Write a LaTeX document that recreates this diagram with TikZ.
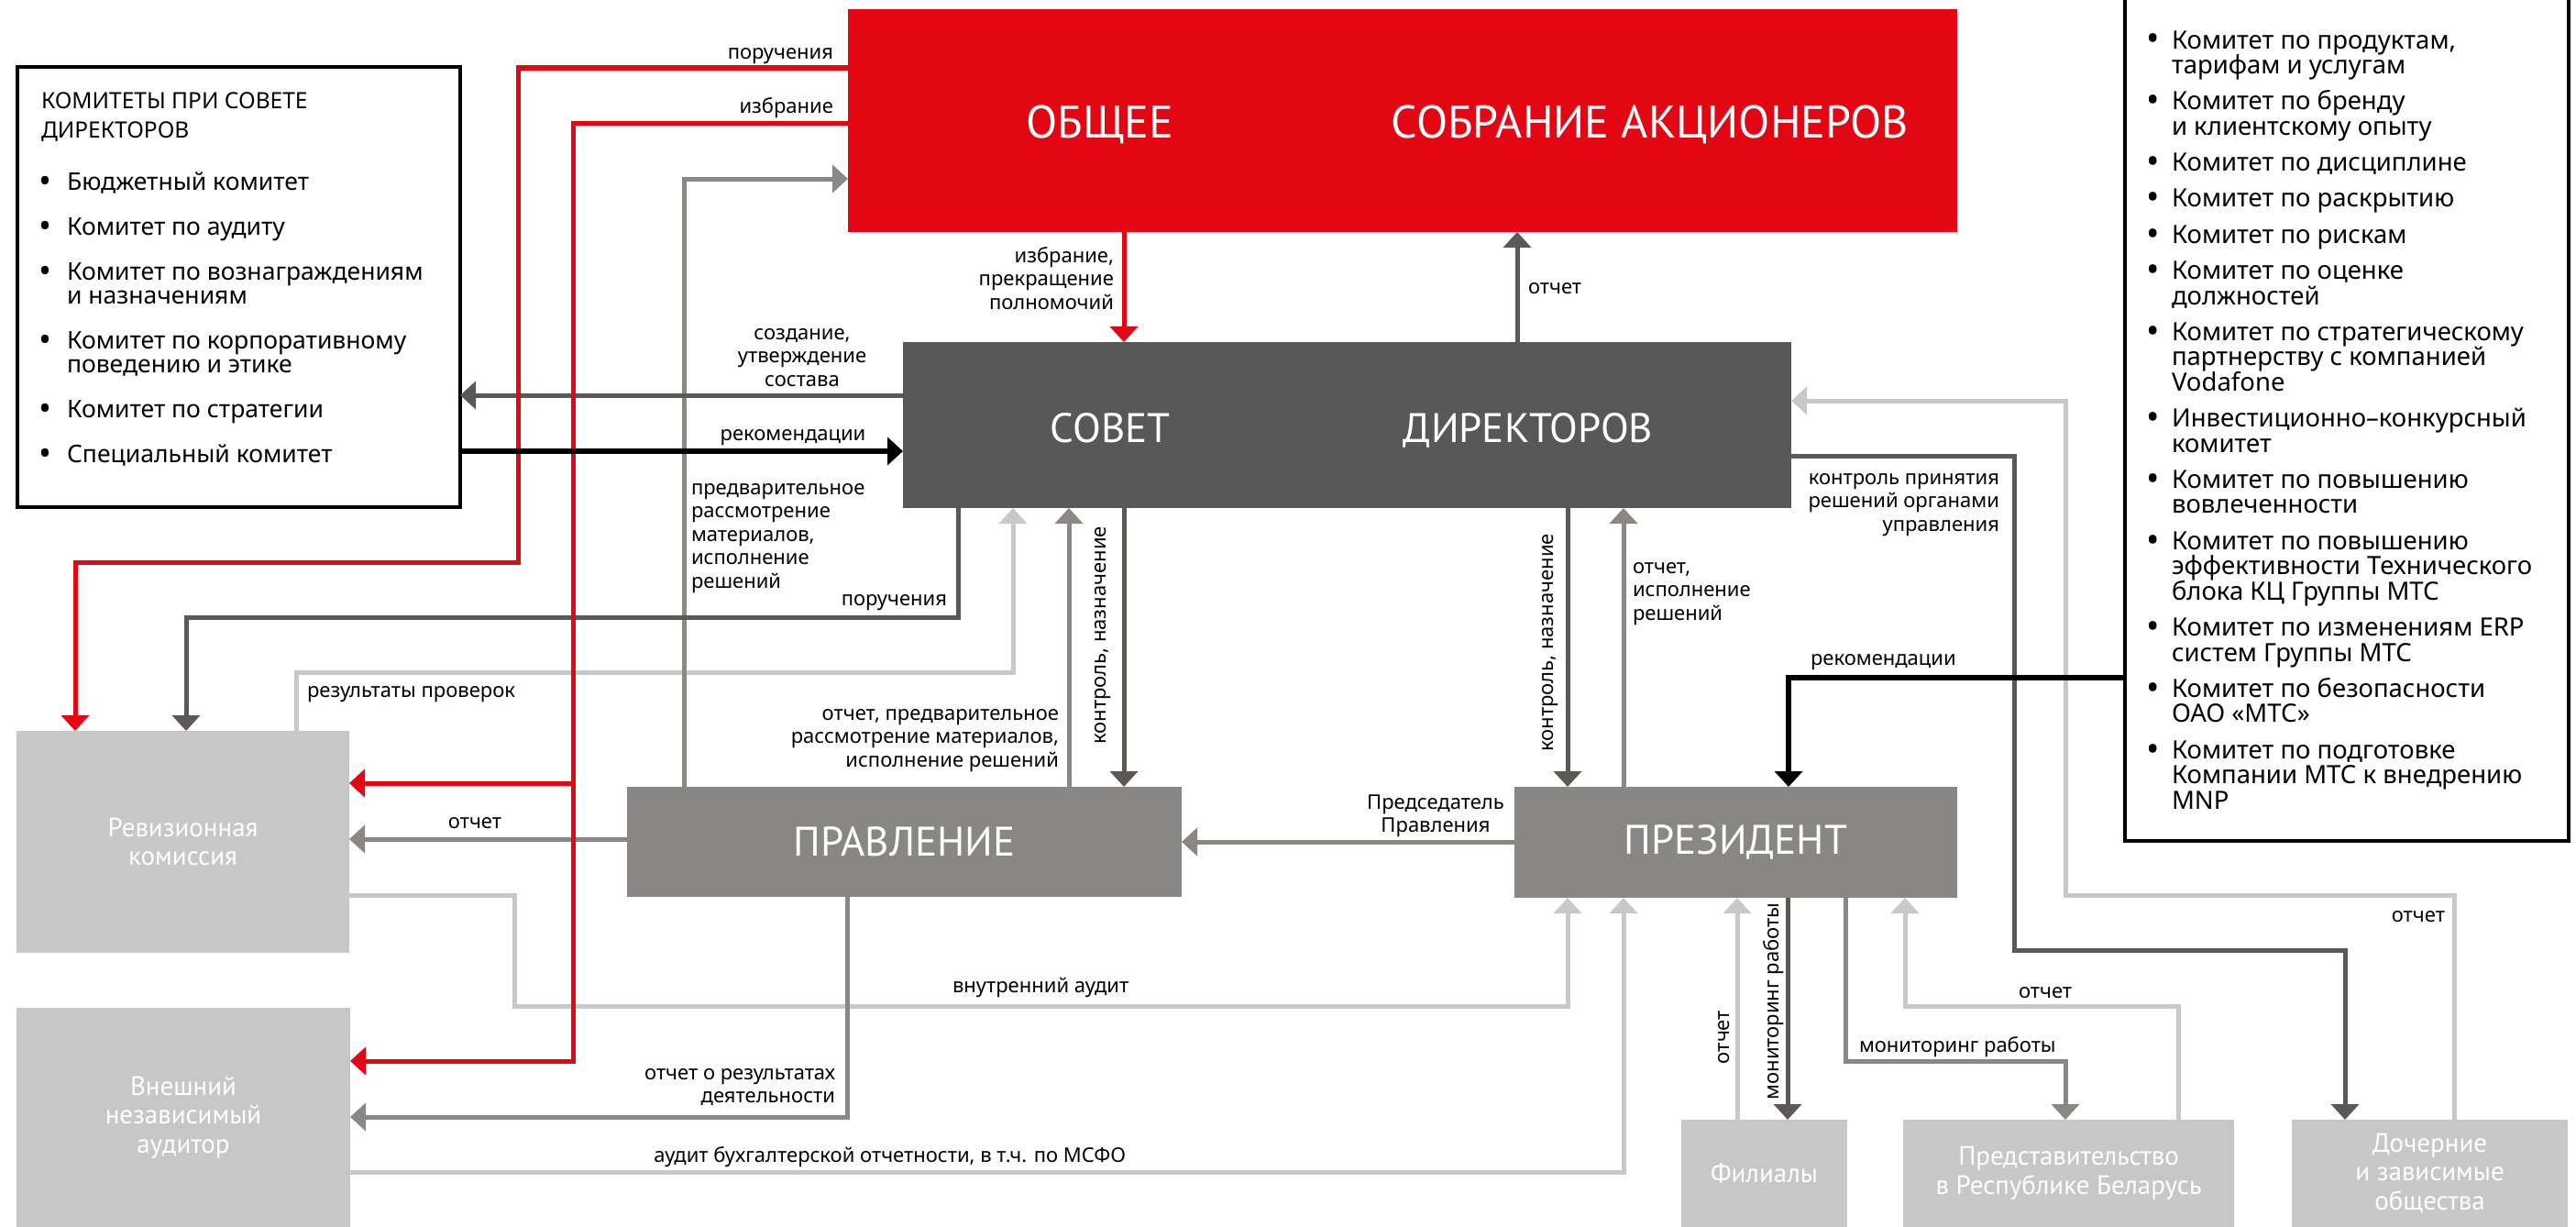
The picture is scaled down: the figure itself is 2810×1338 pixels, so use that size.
\documentclass[tikz,border=0pt]{standalone}
\usepackage{fontspec}
\setmainfont{Noto Sans}
\newfontfamily\ttlfont{PT Sans}
\usetikzlibrary{arrows.meta}
\definecolor{mtsred}{RGB}{227,6,19}
\definecolor{csovet}{RGB}{88,88,88}
\definecolor{cpr}{RGB}{136,135,134}
\definecolor{clbox}{RGB}{198,199,198}
\definecolor{cdark}{RGB}{92,88,87}
\definecolor{cmid}{RGB}{138,135,134}
\definecolor{clight}{RGB}{200,200,200}
\newcommand\labfont{\fontsize{22}{25.5}\selectfont}
\newcommand\listAfont{\fontsize{26.5}{26}\selectfont}
\newcommand\listBfont{\fontsize{27.5}{27.5}\selectfont}
\newcommand\headfont{\fontsize{24.5}{26}\selectfont}
\newcommand\bigfont{\ttlfont\fontsize{45}{50}\selectfont}
\newcommand\hugefont{\ttlfont\fontsize{50}{55}\selectfont}
\newcommand\boxfont{\ttlfont\fontsize{29}{31.5}\selectfont}
\newcommand\Lr[1]{\vtop{\lineskiplimit=-1000pt\lineskip=0pt\let\\\cr\halign{\hfil##\cr#1\crcr}}}
\newcommand\Ll[1]{\vtop{\lineskiplimit=-1000pt\lineskip=0pt\let\\\cr\halign{##\hfil\cr#1\crcr}}}
\newcommand\Lc[1]{\vtop{\lineskiplimit=-1000pt\lineskip=0pt\let\\\cr\halign{\hfil##\hfil\cr#1\crcr}}}
\newcommand\gap[1]{\noalign{\vskip#1}}
\newcommand\bigdot{\raisebox{-3pt}{\scalebox{1.4}{\textbullet}}}
\newcommand\blA{\llap{\bigdot\hspace{17pt}}}
\newcommand\blB{\llap{\bigdot\hspace{13.5pt}}}
\begin{document}
\begin{tikzpicture}[x=1pt,y=-1pt,
  >={Triangle[length=17pt,width=30pt]},
  box/.style={inner sep=0pt,outer sep=0pt},
  framebox/.style={box,draw=black,line width=3.5pt,fill=white},
  lbl/.style={inner sep=0pt,outer sep=0pt,font=\labfont,text=black},
  lstA/.style={inner sep=0pt,outer sep=0pt,font=\listAfont,text=black},
  lstB/.style={inner sep=0pt,outer sep=0pt,font=\listBfont,text=black},
  big/.style={inner sep=0pt,font=\bigfont,text=white},
  huge/.style={inner sep=0pt,font=\hugefont,text=white},
  wtxt/.style={font=\boxfont,text=white,align=center},
  redc/.style={draw=mtsred,line width=5pt,->},
  darkc/.style={draw=cdark,line width=5pt,->},
  midc/.style={draw=cmid,line width=5pt,->},
  lightc/.style={draw=clight,line width=5pt,->},
  blackc/.style={draw=black,line width=6pt,->}]
\useasboundingbox (0,0) rectangle (2810,1338);
\clip (0,0) rectangle (2810,1338);

% ---------- boxes ----------
\node[framebox,minimum width=483pt,minimum height=480pt] (com1) at (260.5,313) {};
\node[framebox,minimum width=484pt,minimum height=936pt] (com2) at (2560,449) {};
\node[box,fill=mtsred,minimum width=1210pt,minimum height=243pt] (osa) at (1530,131.5) {};
\node[box,fill=csovet,minimum width=969pt,minimum height=181pt] (sovet) at (1469.5,463.5) {};
\node[box,fill=cpr,minimum width=605pt,minimum height=120pt,font=\bigfont,text=white] (pravl) at (986.5,918) {ПРАВЛЕНИЕ};
\node[box,fill=cpr,minimum width=483pt,minimum height=121pt,font=\bigfont,text=white] (pres) at (1893.5,918.5) {ПРЕЗИДЕНТ};
\node[box,fill=clbox,minimum width=363pt,minimum height=242pt,wtxt] (rev) at (199.5,918) {Ревизионная\\комиссия};
\node[box,fill=clbox,minimum width=364pt,minimum height=239pt,wtxt] (ext) at (200,1218.5) {Внешний\\независимый\\аудитор};
\node[box,fill=clbox,minimum width=181pt,minimum height=117pt,wtxt] (fil) at (1924.5,1279.5) {Филиалы};
\node[box,fill=clbox,minimum width=361pt,minimum height=117pt,wtxt] (repr) at (2256.5,1279.5) {Представительство\\в Республике Беларусь};
\node[box,fill=clbox,minimum width=301pt,minimum height=117pt,wtxt] (doch) at (2650.5,1279.5) {Дочерние\\и зависимые\\общества};

% ---------- titles in big boxes ----------
\node[huge,anchor=base] (t1) at (1200,150) {ОБЩЕЕ};
\node[huge,anchor=base] (t2) at (1800,150) {СОБРАНИЕ АКЦИОНЕРОВ};
\node[big,anchor=base] (t3) at (1211,482) {СОВЕТ};
\node[big,anchor=base] (t4) at (1667,482) {ДИРЕКТОРОВ};

% ---------- committee lists ----------
\node[lstA,font=\headfont,anchor=base west] (c1title) at (45,118) {\Ll{КОМИТЕТЫ ПРИ СОВЕТЕ\\\gap{6pt}ДИРЕКТОРОВ}};
\node[lstA,anchor=base west] (c1list) at (73,207) {\Ll{%
\blA Бюджетный комитет\\\gap{23pt}
\blA Комитет по аудиту\\\gap{23pt}
\blA Комитет по вознаграждениям\\и назначениям\\\gap{23pt}
\blA Комитет по корпоративному\\поведению и этике\\\gap{23pt}
\blA Комитет по стратегии\\\gap{23pt}
\blA Специальный комитет}};
\node[lstB,anchor=base west] (c2list) at (2369,53) {\Ll{%
\blB Комитет по продуктам,\\тарифам и услугам\\\gap{11.8pt}
\blB Комитет по бренду\\и клиентскому опыту\\\gap{11.8pt}
\blB Комитет по дисциплине\\\gap{11.8pt}
\blB Комитет по раскрытию\\\gap{11.8pt}
\blB Комитет по рискам\\\gap{11.8pt}
\blB Комитет по оценке\\должностей\\\gap{11.8pt}
\blB Комитет по стратегическому\\партнерству с компанией\\Vodafone\\\gap{11.8pt}
\blB Инвестиционно–конкурсный\\комитет\\\gap{11.8pt}
\blB Комитет по повышению\\вовлеченности\\\gap{11.8pt}
\blB Комитет по повышению\\эффективности Технического\\блока КЦ Группы МТС\\\gap{11.8pt}
\blB Комитет по изменениям ERP\\систем Группы МТС\\\gap{11.8pt}
\blB Комитет по безопасности\\ОАО «МТС»\\\gap{11.8pt}
\blB Комитет по подготовке\\Компании МТС к внедрению\\MNP}};

% ---------- routing coordinates ----------
\coordinate (r1a) at (565,74);
\coordinate (r1b) at (565,613);
\coordinate (r1c) at (82,613);
\coordinate (r2a) at (625,134);
\coordinate (r2b) at (625,1157);
\coordinate (r2c) at (625,854);
\coordinate (g3) at (746,195);
\coordinate (c4) at (0,431);
\coordinate (c5) at (0,492);
\coordinate (c6) at (1226,0);
\coordinate (c7) at (1655,0);
\coordinate (c8a) at (1045,673);
\coordinate (c8b) at (203,673);
\coordinate (c9a) at (323,733);
\coordinate (c9b) at (1105,733);
\coordinate (c10) at (1166,0);
\coordinate (c12) at (0,915);
\coordinate (c13) at (0,918);
\coordinate (c14) at (1710,0);
\coordinate (c15) at (1771,0);
\coordinate (c16a) at (2197,497);
\coordinate (c16b) at (2197,1036);
\coordinate (c16c) at (2558,1036);
\coordinate (c17a) at (2677,976);
\coordinate (c17b) at (2253,976);
\coordinate (c17c) at (2253,437);
\coordinate (c18) at (1951,739);
\coordinate (c19a) at (561,976);
\coordinate (c19b) at (561,1097);
\coordinate (c19c) at (1710,1097);
\coordinate (c20) at (924,1218);
\coordinate (c21) at (1771,1278);
\coordinate (c22) at (1895,0);
\coordinate (c23) at (1950,0);
\coordinate (c24a) at (2013,1157);
\coordinate (c24b) at (2253,1157);
\coordinate (c25a) at (2376,1097);
\coordinate (c25b) at (2078,1097);

% ---------- connectors ----------
\draw[lightc] (rev.north -| c9a) -- (c9a) -- (c9b) -- (sovet.south -| c9b);
\draw[lightc] (rev.east |- c19a) -- (c19a) -- (c19b) -- (c19c) -- (pres.south -| c19c);
\draw[lightc] (ext.east |- c21) -- (c21) -- (pres.south -| c21);
\draw[lightc] (fil.north -| c22) -- (pres.south -| c22);
\draw[lightc] (repr.north -| c25a) -- (c25a) -- (c25b) -- (pres.south -| c25b);
\draw[lightc] (doch.north -| c17a) -- (c17a) -- (c17b) -- (c17c) -- (sovet.east |- c17c);
\draw[midc] (pravl.north -| g3) -- (g3) -- (g3 -| osa.west);
\draw[midc] (pravl.north -| c10) -- (sovet.south -| c10);
\draw[midc] (pravl.west |- c12) -- (rev.east |- c12);
\draw[midc] (pres.west |- c13) -- (pravl.east |- c13);
\draw[midc] (pres.north -| c15) -- (sovet.south -| c15);
\draw[midc] (pravl.south -| c20) -- (c20) -- (ext.east |- c20);
\draw[midc] (pres.south -| c24a) -- (c24a) -- (c24b) -- (repr.north -| c24b);
\draw[darkc] (sovet.west |- c4) -- (com1.east |- c4);
\draw[darkc] (sovet.north -| c7) -- (osa.south -| c7);
\draw[darkc] (sovet.south -| c8a) -- (c8a) -- (c8b) -- (rev.north -| c8b);
\draw[darkc] (sovet.south -| c6) -- (pravl.north -| c6);
\draw[darkc] (sovet.south -| c14) -- (pres.north -| c14);
\draw[darkc] (sovet.east |- c16a) -- (c16a) -- (c16b) -- (c16c) -- (doch.north -| c16c);
\draw[darkc] (pres.south -| c23) -- (fil.north -| c23);
\draw[redc] (osa.west |- r1a) -- (r1a) -- (r1b) -- (r1c) -- (rev.north -| r1c);
\draw[redc] (osa.west |- r2a) -- (r2a) -- (r2b) -- (ext.east |- r2b);
\draw[redc] (r2c) -- (rev.east |- r2c);
\draw[redc] (osa.south -| c6) -- (sovet.north -| c6);
\draw[blackc] (com1.east |- c5) -- (sovet.west |- c5);
\draw[blackc] (com2.west |- c18) -- (c18) -- (pres.north -| c18);

% ---------- labels ----------
\node[lbl,anchor=base east] (lb1) at (909,64) {поручения};
\node[lbl,anchor=base east] (lb2) at (909,123) {избрание};
\node[lbl,anchor=base west] (lb3) at (754,539) {\Ll{предварительное\\рассмотрение\\материалов,\\исполнение\\решений}};
\node[lbl,anchor=base] (lb4) at (875,370) {\Lc{создание,\\утверждение\\состава}};
\node[lbl,anchor=base] (lb5) at (865,480) {рекомендации};
\node[lbl,anchor=base east] (lb6) at (1215,286) {\Lr{избрание,\\прекращение\\полномочий}};
\node[lbl,anchor=base west] (lb7) at (1667,320) {отчет};
\node[lbl,anchor=base east] (lb8) at (1033,660) {поручения};
\node[lbl,anchor=base west] (lb9) at (335,760) {результаты проверок};
\node[lbl,anchor=base east] (lb10) at (1155,785) {\Lr{отчет, предварительное\\рассмотрение материалов,\\исполнение решений}};
\node[lbl,rotate=90] (lb11) at (1203,693) {контроль, назначение};
\node[lbl,anchor=base] (lb12) at (518,903) {отчет};
\node[lbl,anchor=base] (lb13) at (1566,882) {\Lc{Председатель\\Правления}};
\node[lbl,rotate=90] (lb14) at (1691,701) {контроль, назначение};
\node[lbl,anchor=base west] (lb15) at (1781,625) {\Ll{отчет,\\исполнение\\решений}};
\node[lbl,anchor=base east] (lb16) at (2181,528) {\Lr{контроль принятия\\решений органами\\управления}};
\node[lbl,anchor=base west] (lb17) at (1975,725) {рекомендации};
\node[lbl,anchor=base east] (lb18) at (2667,1005) {отчет};
\node[lbl,anchor=base west] (lb19) at (1039,1082) {внутренний аудит};
\node[lbl,anchor=base east] (lb20) at (911,1177) {\Lr{отчет о результатах\\деятельности}};
\node[lbl,anchor=base east] (lb21) at (1228,1267) {аудит бухгалтерской отчетности, в т.ч. по МСФО};
\node[lbl,rotate=90] (lb22) at (1881,1131) {отчет};
\node[lbl,rotate=90] (lb23) at (1935,1092) {мониторинг работы};
\node[lbl,anchor=base west] (lb24) at (2028,1147) {мониторинг работы};
\node[lbl,anchor=base west] (lb25) at (2202,1088) {отчет};
\end{tikzpicture}
\end{document}
